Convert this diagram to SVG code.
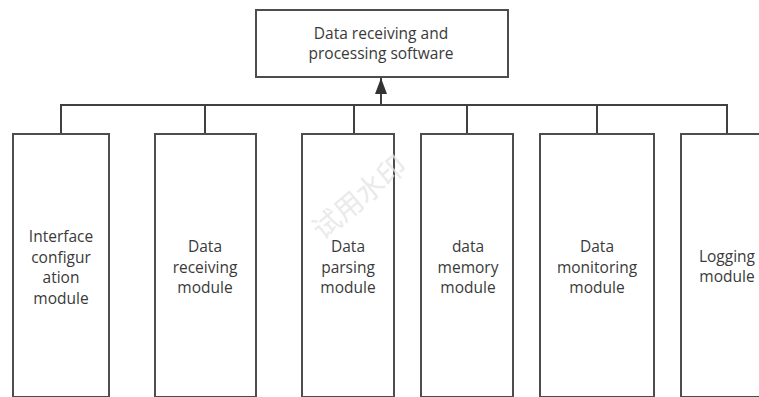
<svg xmlns="http://www.w3.org/2000/svg" width="759" height="397" viewBox="0 0 759 397">
<defs>
<style>
.box{fill:#ffffff;stroke:#4d4d4d;stroke-width:2}
.lbl{font-family:"Open Sans","Noto Sans","DejaVu Sans",sans-serif;font-size:15.5px;fill:#3a3a3a;text-anchor:middle}
.conn{fill:none;stroke:#404040;stroke-width:2}
.wm{font-family:"Noto Sans CJK SC",sans-serif;font-size:28px;fill:#e6e6e6;text-anchor:middle;opacity:0.8}
</style>
<marker id="arr" viewBox="0 0 16 12" refX="16" refY="6" markerWidth="16" markerHeight="12" orient="auto" markerUnits="userSpaceOnUse">
<path d="M0,0 L16,6 L0,12 z" fill="#333333"/>
</marker>
</defs>
<rect width="759" height="397" fill="#ffffff"/>
<g id="connectors">
<path class="conn" d="M61,134 V105 H727 V134"/>
<path class="conn" d="M205,134 V105"/>
<path class="conn" d="M354,134 V105"/>
<path class="conn" d="M467,134 V105"/>
<path class="conn" d="M597,134 V105"/>
<path class="conn" d="M381,105 V78" marker-end="url(#arr)"/>
</g>
<g id="root">
<rect class="box" x="256" y="10" width="252" height="67"/>
<text class="lbl" x="381" y="39">Data receiving and</text>
<text class="lbl" x="381" y="59">processing software</text>
</g>
<g id="n1">
<rect class="box" x="13" y="134" width="96" height="263"/>
<text class="lbl" x="61" y="242">Interface</text>
<text class="lbl" x="61" y="262.5">configur</text>
<text class="lbl" x="61" y="283">ation</text>
<text class="lbl" x="61" y="303.5">module</text>
</g>
<g id="n2">
<rect class="box" x="155" y="134" width="101" height="263"/>
<text class="lbl" x="205" y="252">Data</text>
<text class="lbl" x="205" y="272.5">receiving</text>
<text class="lbl" x="205" y="293">module</text>
</g>
<g id="n3">
<rect class="box" x="302" y="134" width="92" height="263"/>
<text class="lbl" x="348" y="252">Data</text>
<text class="lbl" x="348" y="272.5">parsing</text>
<text class="lbl" x="348" y="293">module</text>
</g>
<g id="n4">
<rect class="box" x="421" y="134" width="92" height="263"/>
<text class="lbl" x="468" y="252">data</text>
<text class="lbl" x="468" y="272.5">memory</text>
<text class="lbl" x="468" y="293">module</text>
</g>
<g id="n5">
<rect class="box" x="540" y="134" width="114" height="263"/>
<text class="lbl" x="597" y="252">Data</text>
<text class="lbl" x="597" y="272.5">monitoring</text>
<text class="lbl" x="597" y="293">module</text>
</g>
<g id="n6">
<rect class="box" x="681" y="134" width="100" height="263"/>
<text class="lbl" x="727" y="262">Logging</text>
<text class="lbl" x="727" y="282">module</text>
</g>
<text class="wm" x="360" y="207" transform="rotate(-40 360 198)">试用水印</text>
</svg>
